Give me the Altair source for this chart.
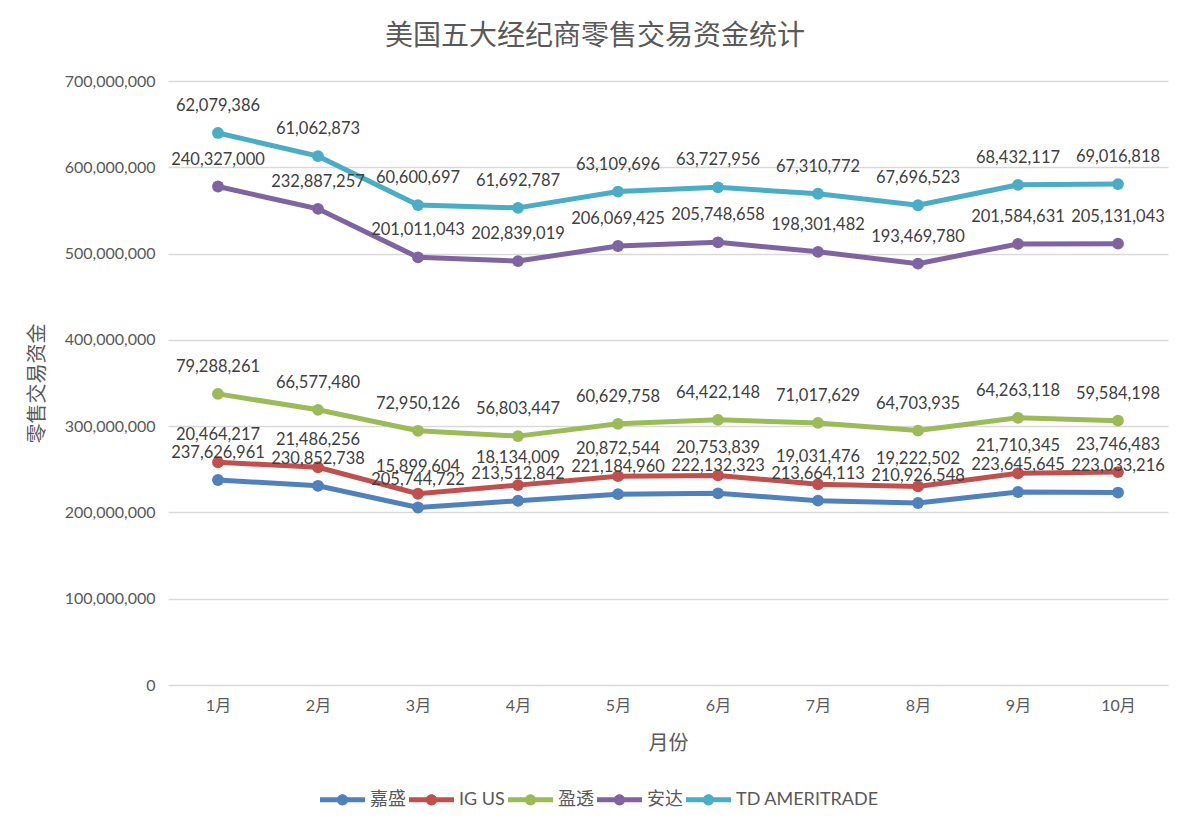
import altair as alt
import pandas as pd

months = ["1月", "2月", "3月", "4月", "5月", "6月", "7月", "8月", "9月", "10月"]
series = ["嘉盛", "IG US", "盈透", "安达", "TD AMERITRADE"]
colors = ["#4f81bd", "#c0504d", "#9bbb59", "#8064a2", "#4bacc6"]

jiasheng = [237626961, 230852738, 205744722, 213512842, 221184960,
            222132323, 213664113, 210926548, 223645645, 223033216]
ig_us = [20464217, 21486256, 15899604, 18134009, 20872544,
         20753839, 19031476, 19222502, 21710345, 23746483]
yingtou = [79288261, 66577480, 72950126, 56803447, 60629758,
           64422148, 71017629, 64703935, 64263118, 59584198]
anda = [240327000, 232887257, 201011043, 202839019, 206069425,
        205748658, 198301482, 193469780, 201584631, 205131043]
td = [62079386, 61062873, 60600697, 61692787, 63109696,
      63727956, 67310772, 67696523, 68432117, 69016818]

y_ticks = [0, 100000000, 200000000, 300000000, 400000000, 500000000, 600000000, 700000000]

rows = []
for k, (name, vals) in enumerate(zip(series, [jiasheng, ig_us, yingtou, anda, td])):
    for m, v in zip(months, vals):
        rows.append({"month": m, "series": name, "order": k, "value": v})
df = pd.DataFrame(rows)

FONT = "Lato, 'Noto Sans CJK SC', sans-serif"
CJK = "'Noto Sans CJK SC', sans-serif"

legend_path = ("M-1,-0.11L1,-0.11L1,0.11L-1,0.11Z "
               "M0.25,0A0.25,0.25,0,1,1,-0.25,0A0.25,0.25,0,1,1,0.25,0Z")

base = alt.Chart(df).transform_window(
    cum="sum(value)", groupby=["month"], sort=[alt.SortField("order")], frame=[None, 0]
)

x = alt.X("month:N", sort=months, title="月份",
          axis=alt.Axis(labelAngle=0, labelFontSize=16, labelColor="#595959",
                        labelFont=FONT, labelPadding=12, domain=False, ticks=False,
                        titleFont=CJK, titleFontSize=20, titleFontWeight="normal",
                        titleColor="#595959", titleY=58, titleBaseline="middle"))
y = alt.Y("cum:Q", title="零售交易资金",
          scale=alt.Scale(domain=[0, 700000000], nice=False),
          axis=alt.Axis(values=y_ticks, labelExpr="format(datum.value, ',')",
                        labelFontSize=16, labelColor="#595959",
                        labelFont=FONT, labelPadding=13, domain=False, ticks=False,
                        grid=True, gridColor="#d9d9d9", gridWidth=1.5,
                        titleFont=CJK, titleFontSize=20, titleFontWeight="normal",
                        titleColor="#595959", titleX=-131, titleY=302,
                        titleBaseline="middle", titleAlign="center"))
color_scale = alt.Scale(domain=series, range=colors)
legend = alt.Legend(orient="none", legendX=152, legendY=696,
                    direction="horizontal", title=None,
                    symbolType=legend_path, symbolSize=2025,
                    symbolStrokeWidth=0, symbolOpacity=1,
                    labelFontSize=18, labelFont=FONT,
                    labelColor="#595959", labelOffset=5,
                    columnPadding=3)

points = base.mark_point(filled=True, size=140, opacity=1).encode(
    x=x, y=y,
    color=alt.Color("series:N", scale=color_scale, legend=legend),
)
lines = base.mark_line(strokeWidth=5).encode(
    x=x, y=y,
    color=alt.Color("series:N", scale=color_scale, legend=legend),
    detail="series:N",
)
labels = base.mark_text(dy=-27, fontSize=16.5, font=FONT, color="#404040").encode(
    x=x, y=y, text=alt.Text("value:Q", format=","),
)

chart = alt.layer(points, lines, labels).properties(
    width=1000, height=604,
    autosize=alt.AutoSizeParams(type="none"),
    padding={"left": 160, "top": 73, "right": 16, "bottom": 134},
    title=alt.TitleParams("美国五大经纪商零售交易资金统计", font=CJK, fontSize=28,
                          fontWeight="normal", color="#595959", anchor="middle",
                          dx=-73, offset=22),
    background="white",
).configure_view(stroke=None)

chart.save("out.html", embed_options={"renderer": "svg", "actions": False})
